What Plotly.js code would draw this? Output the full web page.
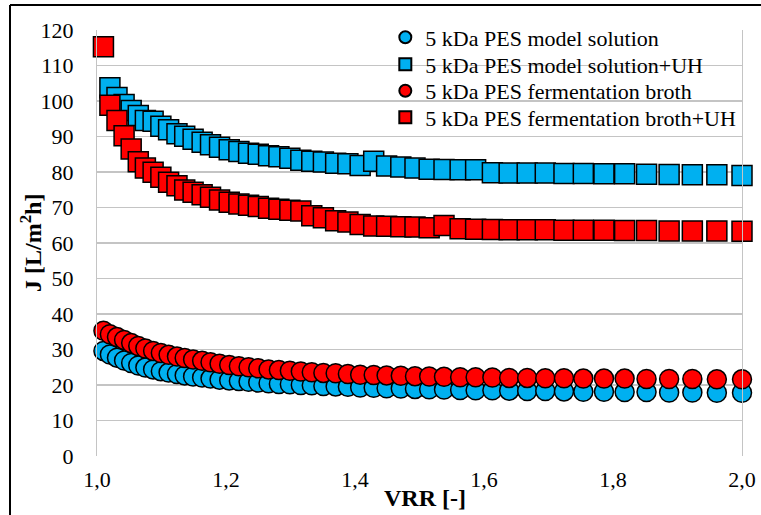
<!DOCTYPE html>
<html>
<head>
<meta charset="utf-8">
<script src="https://cdn.plot.ly/plotly-3.0.1.min.js"></script>
<style>
html,body{margin:0;padding:0;background:#fff;overflow:hidden;}
#chart{width:761px;height:515px;}
</style>
</head>
<body>
<div id="chart"></div>
<script>
// VRR [-]
var vrr = [1.010,1.020,1.031,1.042,1.053,1.064,1.075,1.087,1.099,1.111,
           1.124,1.136,1.149,1.163,1.176,1.190,1.205,1.220,1.235,1.250,
           1.266,1.282,1.299,1.316,1.333,1.351,1.370,1.389,1.408,1.429,
           1.449,1.471,1.493,1.515,1.538,1.563,1.587,1.613,1.639,1.667,
           1.695,1.724,1.754,1.786,1.818,1.852,1.887,1.923,1.961,2.000];

// 5 kDa PES model solution
var modelSolution = [29.6,28.6,27.7,26.9,26.2,25.5,24.9,24.4,23.9,23.5,
                     23.1,22.7,22.4,22.1,21.8,21.5,21.3,21.1,20.9,20.7,
                     20.5,20.3,20.2,20.0,19.9,19.7,19.6,19.5,19.3,19.2,
                     19.1,19.0,18.9,18.8,18.7,18.6,18.5,18.5,18.4,18.3,
                     18.3,18.2,18.1,18.1,18.0,18.0,17.9,17.9,17.8,17.8];

// 5 kDa PES model solution+UH
var modelSolutionUH = [null,103.7,101.0,99.0,97.3,95.9,94.5,94.3,92.9,91.9,
                       90.8,90.1,89.2,88.4,87.7,87.0,86.3,85.8,85.3,85.0,
                       84.6,84.3,83.9,83.3,83.0,82.8,82.5,82.3,81.8,83.0,
                       81.7,81.4,81.1,80.8,80.7,80.6,80.6,79.8,79.7,79.7,
                       79.7,79.6,79.6,79.5,79.5,79.4,79.3,79.2,79.2,79.0];

// 5 kDa PES fermentation broth
var broth = [35.3,34.3,33.5,32.7,31.8,31.0,30.3,29.6,29.0,28.5,
             28.0,27.6,27.2,26.8,26.4,26.0,25.6,25.3,25.0,24.7,
             24.4,24.2,24.0,23.8,23.6,23.4,23.3,23.1,22.9,22.8,
             22.7,22.6,22.5,22.4,22.3,22.2,22.2,22.1,22.0,22.0,
             21.9,21.9,21.8,21.8,21.8,21.7,21.7,21.7,21.6,21.6];

// 5 kDa PES fermentation broth+UH
var brothUH = [115.3,98.8,94.5,90.2,86.5,82.9,81.1,79.9,78.5,77.1,
               76.1,74.9,74.3,73.6,72.9,72.1,71.5,71.0,70.6,70.3,
               69.8,69.5,69.2,69.0,67.7,67.1,66.3,65.9,65.2,64.8,
               64.7,64.6,64.5,64.3,64.9,64.0,63.9,63.8,63.7,63.7,
               63.7,63.6,63.6,63.6,63.5,63.5,63.4,63.4,63.4,63.3];

var seriesNames = ['5 kDa PES model solution','5 kDa PES model solution+UH',
                   '5 kDa PES fermentation broth','5 kDa PES fermentation broth+UH'];

var BLUE = '#00b0f0', RED = '#ff0000';
var FONT = 'Liberation Serif';

function tr(y, name, color, symbol, size, legendId){
  return {x: vrr, y: y, name: name, type: 'scatter', mode: 'markers',
          cliponaxis: false, legend: legendId,
          marker: {color: color, symbol: symbol, size: size,
                   line: {color: '#000', width: 1.5}}};
}

var data = [
  tr(modelSolution, seriesNames[0], BLUE, 'circle', 19, 'legend'),
  tr(modelSolutionUH, seriesNames[1], BLUE, 'square', 20, 'legend2'),
  tr(broth, seriesNames[2], RED, 'circle', 19, 'legend3'),
  tr(brothUH, seriesNames[3], RED, 'square', 20, 'legend4')
];

// one legend box per series so the rows can sit 27 px apart
function leg(rowCenterPx){
  return {x: 0.447, y: (456 - rowCenterPx) / 426, xanchor: 'left', yanchor: 'middle',
          bgcolor: 'rgba(0,0,0,0)', itemsizing: 'constant', borderwidth: 0,
          font: {family: FONT, size: 22, color: '#000'}};
}

var layout = {
  width: 761, height: 515,
  margin: {l: 97, r: 19, t: 30, b: 59},
  paper_bgcolor: '#fff', plot_bgcolor: '#fff',
  separators: ', ',
  font: {family: FONT, size: 22, color: '#000'},
  showlegend: true,
  legend: leg(37.5), legend2: leg(64.5), legend3: leg(91), legend4: leg(117.5),
  xaxis: {range: [1, 2], tick0: 1, dtick: 0.2, tickformat: '.1f',
          showgrid: false, zeroline: false, showline: false,
          ticks: 'outside', ticklen: 4, tickcolor: 'rgba(0,0,0,0)',
          tickfont: {family: FONT, size: 22, color: '#000'}},
  yaxis: {range: [0, 120], tick0: 0, dtick: 10,
          showgrid: true, gridcolor: '#c4c4c4', gridwidth: 1.2,
          zeroline: false, showline: true, linecolor: '#c4c4c4', linewidth: 1.2, mirror: true,
          ticks: 'outside', ticklen: 18, tickcolor: 'rgba(0,0,0,0)',
          tickfont: {family: FONT, size: 22, color: '#000'}},
  annotations: [
    {text: '<b>J [L/m<sup>2</sup>h]</b>', xref: 'paper', yref: 'paper',
     x: (31 - 97) / 645, y: 0.5, xanchor: 'center', yanchor: 'middle',
     textangle: -90, showarrow: false,
     font: {family: FONT, size: 24, color: '#000'}},
    {text: '<b>VRR [-]</b>', xref: 'paper', yref: 'paper',
     x: (425 - 97) / 645, y: (456 - 498) / 426, xanchor: 'center', yanchor: 'middle',
     showarrow: false,
     font: {family: FONT, size: 24, color: '#000'}}
  ],
  shapes: [
    {type: 'line', xref: 'paper', yref: 'paper', x0: (10 - 97) / 645, x1: 1.2,
     y0: (456 - 5) / 426, y1: (456 - 5) / 426, line: {color: '#000', width: 2}},
    {type: 'line', xref: 'paper', yref: 'paper', x0: (10 - 97) / 645, x1: (10 - 97) / 645,
     y0: (456 - 5) / 426, y1: -0.3, line: {color: '#000', width: 2}}
  ]
};

Plotly.newPlot('chart', data, layout, {displayModeBar: false, staticPlot: true});
</script>
</body>
</html>
